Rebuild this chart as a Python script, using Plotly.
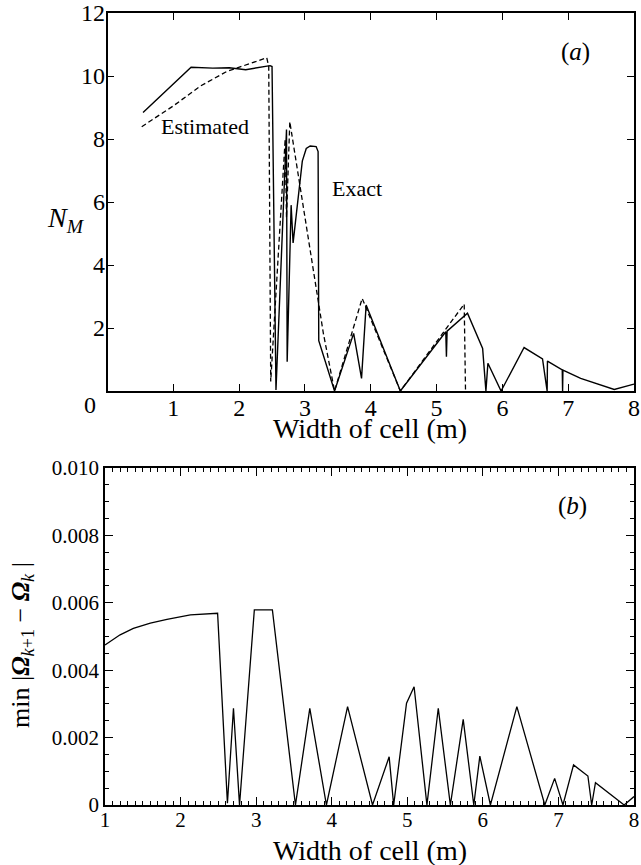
import plotly.graph_objects as go

# ---------------- data ----------------
# Panel (a): N_M vs width of cell
exact_x = [0.54, 1.0, 1.27, 1.6, 1.85, 2.1, 2.47, 2.5, 2.56, 2.72, 2.73, 2.79, 2.82, 2.96,
           3.02, 3.08, 3.17, 3.2, 3.21, 3.45, 3.74, 3.86, 3.93, 4.45, 5.14, 5.15, 5.16,
           5.47, 5.70, 5.75, 5.78, 5.98, 6.33, 6.61, 6.68, 6.685, 6.91, 6.915, 6.92,
           7.19, 7.70, 8.0]
exact_y = [8.84, 9.75, 10.28, 10.25, 10.26, 10.2, 10.33, 10.3, 0.03, 8.3, 0.93, 5.9, 4.7, 7.3,
           7.7, 7.78, 7.76, 7.6, 1.6, 0.0, 1.83, 0.4, 2.73, 0.0, 1.88, 1.09, 1.9,
           2.47, 1.35, 0.0, 0.88, 0.0, 1.38, 1.02, 0.0, 0.95, 0.67, 0.0, 0.66,
           0.40, 0.05, 0.22]

est_x = [0.52, 1.0, 1.41, 1.81, 2.42, 2.45, 2.48, 2.70, 2.72, 2.77, 3.28, 3.45, 3.87,
         4.45, 5.42, 5.44]
est_y = [8.39, 9.05, 9.68, 10.14, 10.58, 10.3, 0.3, 8.0, 5.5, 8.55, 1.83, 0.0, 2.94,
         0.0, 2.76, 0.0]

# Panel (b): min |Omega_{k+1} - Omega_k| vs width of cell
gap_x = [1.0, 1.2, 1.375, 1.6, 1.82, 2.13, 2.49, 2.62, 2.70, 2.78, 2.976, 3.215, 3.52,
         3.71, 3.93, 4.21, 4.54, 4.76, 4.82, 4.99, 5.09, 5.26, 5.41, 5.57, 5.74, 5.88,
         5.96, 6.10, 6.45, 6.82, 6.95, 7.06, 7.20, 7.39, 7.44, 7.49, 7.87, 8.0]
gap_y = [0.00475, 0.00505, 0.00524, 0.00540, 0.00551, 0.00564, 0.00569, 0.00005, 0.00287,
         0.0, 0.00579, 0.00579, 0.0, 0.00287, 0.0, 0.00292, 0.0, 0.00143, 0.0, 0.00302,
         0.00351, 0.0, 0.00287, 0.0, 0.00254, 0.0, 0.00145, 0.0, 0.00292, 0.0, 0.00079,
         0.0, 0.00119, 0.00086, 0.0, 0.00066, 0.0, 0.00025]

xa_ticks = [1, 2, 3, 4, 5, 6, 7, 8]
ya_ticks = [2, 4, 6, 8, 10, 12]
xb_ticks = [1, 2, 3, 4, 5, 6, 7, 8]
yb_ticks = [0, 0.002, 0.004, 0.006, 0.008, 0.010]
yb_labels = ["0", "0.002", "0.004", "0.006", "0.008", "0.010"]

FONT = "Liberation Serif"
W, H = 641, 865

fig = go.Figure()
fig.add_trace(go.Scatter(x=exact_x, y=exact_y, mode="lines",
                         line=dict(color="black", width=1.4), xaxis="x", yaxis="y",
                         showlegend=False))
fig.add_trace(go.Scatter(x=est_x, y=est_y, mode="lines",
                         line=dict(color="black", width=1.3, dash="5px,3px"),
                         xaxis="x", yaxis="y", showlegend=False))
fig.add_trace(go.Scatter(x=gap_x, y=gap_y, mode="lines",
                         line=dict(color="black", width=1.3), xaxis="x2", yaxis="y2",
                         showlegend=False))

def px2x(p):
    return p / W

def px2y(p):
    return 1 - p / H

common = dict(showline=True, linecolor="black", linewidth=1.5, mirror="allticks",
              ticks="inside", tickcolor="black", showgrid=False, zeroline=False,
              automargin=False, ticklabeloverflow="allow")

fig.update_layout(
    width=W, height=H,
    margin=dict(l=0, r=0, t=0, b=0, autoexpand=False),
    paper_bgcolor="white", plot_bgcolor="white",
    font=dict(family=FONT, color="black"),
    xaxis=dict(domain=[px2x(107.5), px2x(634)], range=[0, 8], anchor="y",
               tickvals=xa_ticks, ticktext=[str(v) for v in xa_ticks], ticklen=7,
               ticklabelstandoff=-6,
               tickfont=dict(size=24, family=FONT, color="black"), **common),
    yaxis=dict(domain=[px2y(391), px2y(13)], range=[0, 12], anchor="x",
               tickvals=ya_ticks, ticktext=[str(v) for v in ya_ticks], ticklen=7,
               ticklabelstandoff=-4,
               tickfont=dict(size=24, family=FONT, color="black"), **common),
    xaxis2=dict(domain=[px2x(105), px2x(634)], range=[1, 8], anchor="y2",
                tickvals=xb_ticks, ticktext=[str(v) for v in xb_ticks], ticklen=8,
                ticklabelstandoff=-5,
                tickfont=dict(size=21, family=FONT, color="black"),
                minor=dict(ticks="inside", ticklen=4, dtick=0.1, tickcolor="black", showgrid=False),
                **common),
    yaxis2=dict(domain=[px2y(805), px2y(468)], range=[0, 0.010], anchor="x2",
                tickvals=yb_ticks, ticktext=yb_labels, ticklen=8,
                ticklabelstandoff=0,
                tickfont=dict(size=21, family=FONT, color="black"),
                minor=dict(ticks="inside", ticklen=4, dtick=0.0005, tickcolor="black", showgrid=False),
                **common),
)

def txt(x, y, text, size, **kw):
    d = dict(x=px2x(x), y=px2y(y), xref="paper", yref="paper", text=text,
             showarrow=False, xanchor="center", yanchor="middle",
             font=dict(size=size, family=FONT, color="black"))
    d.update(kw)
    return d

ann = [
    txt(90, 405, "0", 24),
    txt(370, 428, "Width of cell (m)", 28),
    txt(370, 850, "Width of cell (m)", 28),
    txt(66, 219, "<i>N<sub>M</sub></i>", 28),
    txt(22, 645, "min |<b><i>Ω</i></b><sub><i>k</i>+1</sub> − <b><i>Ω</i></b><sub><i>k</i></sub> |",
        26, textangle=-90),
    txt(205, 127, "Estimated", 22),
    txt(357, 188, "Exact", 22),
    txt(575, 52, "(<i>a</i>)", 25),
    txt(572, 506, "(<i>b</i>)", 25),
]
fig.update_layout(annotations=ann)

fig.write_html("out.html", config={"displayModeBar": False},
               post_script="document.body.style.margin='0';document.body.style.overflow='hidden';")
